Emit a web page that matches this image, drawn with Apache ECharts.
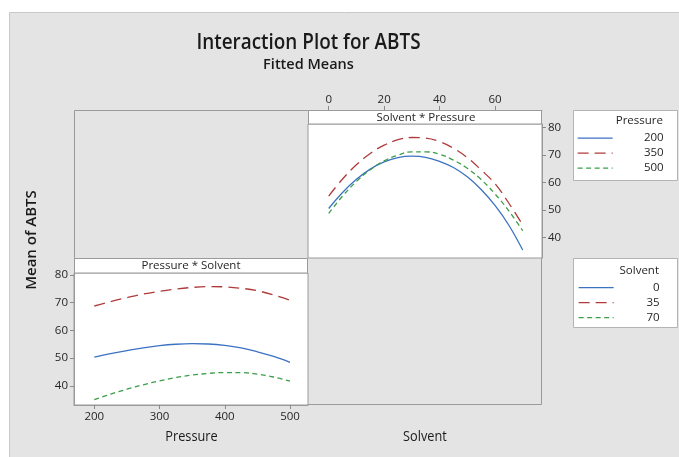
<!DOCTYPE html>
<html><head><meta charset="utf-8">
<script src="https://cdn.jsdelivr.net/npm/echarts@6/dist/echarts.min.js"></script>
<style>html,body{margin:0;padding:0;background:#fff}#c{width:679px;height:457px}</style>
</head><body><div id="c"></div>
<script>
// ---- data ----
// Top-right panel (Solvent * Pressure): x = Solvent, one line per Pressure level
const solventX    = [0, 5, 10, 15, 20, 25, 30, 35, 40, 45, 50, 55, 60, 65, 70];
const pressure200 = [50.5, 56.3, 61.1, 64.8, 67.4, 69.0, 69.5, 69.1, 67.6, 65.4, 62.0, 57.4, 51.6, 44.4, 35.4];
const pressure350 = [55.0, 61.2, 66.4, 70.5, 73.5, 75.5, 76.3, 76.1, 74.8, 72.4, 69.0, 64.5, 59.5, 52.4, 44.5];
const pressure500 = [48.7, 55.0, 60.3, 64.6, 67.8, 69.9, 71.1, 71.1, 70.2, 68.1, 65.1, 61.0, 55.8, 49.6, 42.4];
// Bottom-left panel (Pressure * Solvent): x = Pressure, one line per Solvent level
const pressureX = [200, 225, 250, 275, 300, 325, 350, 375, 400, 425, 450, 475, 500];
const solvent0  = [50.4, 51.6, 52.7, 53.7, 54.5, 55.0, 55.2, 55.1, 54.6, 53.7, 52.3, 50.6, 48.5];
const solvent35 = [68.8, 70.4, 71.8, 73.1, 74.1, 74.9, 75.5, 75.8, 75.7, 75.2, 74.3, 72.8, 70.9];
const solvent70 = [35.0, 37.0, 38.8, 40.4, 41.8, 43.0, 43.9, 44.5, 44.8, 44.8, 44.2, 43.2, 41.7];
// ticks and labels
const meanTicks     = [40, 50, 60, 70, 80];
const solventTicks  = [0, 20, 40, 60];
const pressureTicks = [200, 300, 400, 500];
const pressureLevels = ['200', '350', '500'];
const solventLevels  = ['0', '35', '70'];
const titleText = 'Interaction Plot for ABTS';
const subtitleText = 'Fitted Means';

// ---- styles ----
const F = "'Open Sans', 'Noto Sans', sans-serif";
const TXT = '#262626';
const AXC = '#9a9a9a';
const BLUE = '#3b72c2', RED = '#b03a3a', GREEN = '#3a9e48';
const styles = [
  {color: BLUE, type: 'solid'},
  {color: RED, type: [11, 6]},
  {color: GREEN, type: [5, 3.5]}
];
const small = {fontFamily: F, fontSize: 11.5, color: TXT};

function zip(xs, ys) { return xs.map((x, i) => [x, ys[i]]); }

function axis(gridIndex, min, max, position, ticks, margin, extra) {
  return Object.assign({
    gridIndex, type: 'value', min, max, position,
    axisLine: {show: true, onZero: false, lineStyle: {color: AXC, width: 1}},
    axisTick: {show: true, customValues: ticks, length: 4, lineStyle: {color: '#8a8a8a'}},
    axisLabel: Object.assign({customValues: ticks, margin}, small),
    splitLine: {show: false}
  }, extra || {});
}

const bottomSeries = [solvent0, solvent35, solvent70].map((d, i) => ({
  name: solventLevels[i], type: 'line', xAxisIndex: 0, yAxisIndex: 0,
  data: zip(pressureX, d), smooth: 0.4, symbol: 'none', showSymbol: false,
  lineStyle: {color: styles[i].color, type: styles[i].type, width: 1.3},
  itemStyle: {color: styles[i].color}
}));
const topSeries = [pressure200, pressure350, pressure500].map((d, i) => ({
  name: pressureLevels[i], type: 'line', xAxisIndex: 1, yAxisIndex: 1,
  data: zip(solventX, d), smooth: 0.4, symbol: 'none', showSymbol: false,
  lineStyle: {color: styles[i].color, type: styles[i].type, width: 1.3},
  itemStyle: {color: styles[i].color}
}));

function legend(names, left, top, textWidth) {
  return {
    data: names, orient: 'vertical', left, top, padding: 0,
    itemWidth: 35, itemHeight: 14, itemGap: 3, selectedMode: false,
    itemStyle: {opacity: 0, borderWidth: 0},
    lineStyle: {width: 1.3},
    formatter: '{r|{name}}',
    textStyle: {rich: {r: {width: textWidth, align: 'right', fontFamily: F, fontSize: 11.5, color: TXT, lineHeight: 14}}}
  };
}

const chart = echarts.init(document.getElementById('c'), null, {renderer: 'canvas'});
chart.setOption({
  backgroundColor: '#ffffff',
  animation: false,
  grid: [
    {left: 74, top: 273, width: 234, height: 132, show: true, backgroundColor: '#ffffff', borderColor: AXC, borderWidth: 1},
    {left: 308, top: 124, width: 234, height: 134, show: true, backgroundColor: '#ffffff', borderColor: AXC, borderWidth: 1}
  ],
  xAxis: [
    axis(0, 168.9, 527.6, 'bottom', pressureTicks, 6),
    axis(1, -7.47, 76.96, 'top', solventTicks, 4, {offset: 14})
  ],
  yAxis: [
    axis(0, 33.1, 80.7, 'left', meanTicks, 6),
    axis(1, 32.5, 81.2, 'right', meanTicks, 6)
  ],
  legend: [
    legend(pressureLevels, 577, 132.2, 46),
    legend(solventLevels, 578, 281.6, 41)
  ],
  series: bottomSeries.concat(topSeries),
  graphic: [
    {type: 'rect', z: -100, shape: {x: 9.5, y: 12.5, width: 700, height: 470}, style: {fill: '#e4e4e4', stroke: '#c8c8c8', lineWidth: 1}},
    {type: 'rect', z: -50, shape: {x: 74.5, y: 110.5, width: 467, height: 294}, style: {fill: 'none', stroke: AXC, lineWidth: 1}},
    {type: 'rect', z: 50, shape: {x: 308.5, y: 110.5, width: 233, height: 13.5}, style: {fill: '#fff', stroke: AXC, lineWidth: 1}},
    {type: 'rect', z: 50, shape: {x: 74.5, y: 258.5, width: 233, height: 14.5}, style: {fill: '#fff', stroke: AXC, lineWidth: 1}},
    {type: 'text', z: 60, x: 426, y: 117.5, style: {text: 'Solvent * Pressure', fill: TXT, font: '11.5px ' + F, textAlign: 'center', textVerticalAlign: 'middle'}},
    {type: 'text', z: 60, x: 191, y: 266, style: {text: 'Pressure * Solvent', fill: TXT, font: '11.5px ' + F, textAlign: 'center', textVerticalAlign: 'middle'}},
    {type: 'text', z: 60, x: 308.5, y: 43, scaleX: 0.9, style: {text: titleText, fill: '#1a1a1a', font: '600 21px ' + F, textAlign: 'center', textVerticalAlign: 'middle'}},
    {type: 'text', z: 60, x: 308.5, y: 65, style: {text: subtitleText, fill: '#1a1a1a', font: '600 14.5px ' + F, textAlign: 'center', textVerticalAlign: 'middle'}},
    {type: 'text', z: 60, x: 32, y: 240, rotation: Math.PI / 2, style: {text: 'Mean of ABTS', fill: '#1a1a1a', font: '600 15px ' + F, textAlign: 'center', textVerticalAlign: 'middle'}},
    {type: 'text', z: 60, x: 191.5, y: 437, scaleX: 0.85, style: {text: 'Pressure', fill: '#1a1a1a', font: '15px ' + F, textAlign: 'center', textVerticalAlign: 'middle'}},
    {type: 'text', z: 60, x: 425, y: 437, scaleX: 0.85, style: {text: 'Solvent', fill: '#1a1a1a', font: '15px ' + F, textAlign: 'center', textVerticalAlign: 'middle'}},
    {type: 'rect', z: -40, shape: {x: 573.5, y: 110.5, width: 104, height: 70}, style: {fill: '#fff', stroke: '#b4b4b4', lineWidth: 1}},
    {type: 'rect', z: -40, shape: {x: 573.5, y: 258.5, width: 104, height: 69}, style: {fill: '#fff', stroke: '#b4b4b4', lineWidth: 1}},
    {type: 'text', z: 60, x: 663, y: 121, style: {text: 'Pressure', fill: TXT, font: '11.5px ' + F, textAlign: 'right', textVerticalAlign: 'middle'}},
    {type: 'text', z: 60, x: 659, y: 270.5, style: {text: 'Solvent', fill: TXT, font: '11.5px ' + F, textAlign: 'right', textVerticalAlign: 'middle'}}
  ]
});
</script></body></html>
